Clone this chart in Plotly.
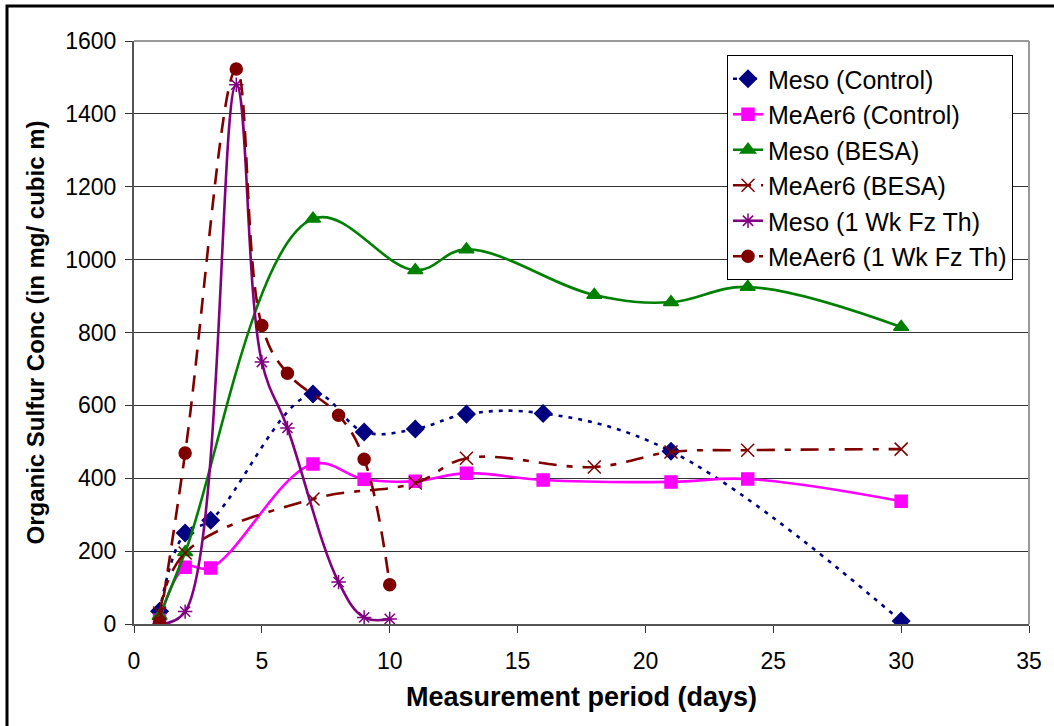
import plotly.graph_objects as go

# ---- data ----
meso_ctrl_x = [1, 2, 3, 7, 9, 11, 13, 16, 21, 30]
meso_ctrl_y = [35, 250, 285, 631, 527, 535, 576, 578, 474, 8]

meaer_ctrl_x = [1, 2, 3, 7, 9, 11, 13, 16, 21, 24, 30]
meaer_ctrl_y = [10, 156, 154, 439, 397, 392, 414, 395, 390, 398, 337]

meso_besa_x = [1, 2, 7, 11, 13, 18, 21, 24, 30]
meso_besa_y = [22, 197, 1112, 971, 1028, 903, 883, 925, 815]

meaer_besa_x = [1, 2, 7, 11, 13, 18, 21, 24, 30]
meaer_besa_y = [30, 195, 343, 387, 455, 431, 472, 477, 480]

meso_fz_x = [1, 2, 4, 5, 6, 8, 9, 10]
meso_fz_y = [0, 34, 1480, 719, 538, 115, 18, 14]

meaer_fz_x = [1, 2, 4, 5, 6, 8, 9, 10]
meaer_fz_y = [3, 469, 1523, 819, 688, 573, 452, 108]

FONT = "Liberation Sans, Arial, sans-serif"

series = [
    ("Meso (Control)", meso_ctrl_x, meso_ctrl_y, "#000080", "4px,6px", "diamond", 13),
    ("MeAer6 (Control)", meaer_ctrl_x, meaer_ctrl_y, "#FF00FF", "solid", "square", 12),
    ("Meso (BESA)", meso_besa_x, meso_besa_y, "#008000", "solid", "triangle-up", 13),
    ("MeAer6 (BESA)", meaer_besa_x, meaer_besa_y, "#800000", "18px,10px,6px,10px", "x-thin-open", 13),
    ("Meso (1 Wk Fz Th)", meso_fz_x, meso_fz_y, "#800080", "solid", "asterisk-open", 12),
    ("MeAer6 (1 Wk Fz Th)", meaer_fz_x, meaer_fz_y, "#800000", "16px,10px", "circle", 12),
]

fig = go.Figure()
for i, (name, xs, ys, col, dash, sym, ms) in enumerate(series):
    fig.add_trace(go.Scatter(
        x=xs, y=ys, name=name, mode="lines+markers",
        line=dict(color=col, width=2.6, dash=dash, shape="spline", smoothing=1.1),
        marker=dict(symbol=sym, size=ms, color=col,
                    line=dict(color=col, width=1.5)),
        legendgroup=f"g{i}",
    ))

fig.update_layout(
    width=1054, height=726,
    margin=dict(l=134, r=25, t=41, b=102, autoexpand=False),
    paper_bgcolor="white", plot_bgcolor="white",
    font=dict(family=FONT, size=23, color="black"),
    showlegend=True,
    legend=dict(
        xref="container", yref="container",
        x=727 / 1054, y=1 - 55 / 726, xanchor="left", yanchor="top",
        bgcolor="white", bordercolor="black", borderwidth=1,
        font=dict(family=FONT, size=25, color="black"),
        tracegroupgap=0,
    ),
    xaxis=dict(
        range=[0, 35], dtick=5, tick0=0,
        showgrid=False, zeroline=False,
        showline=True, linecolor="#555555", linewidth=2,
        ticks="outside", ticklen=7, tickcolor="#333333",
        ticklabelstandoff=8,
        tickfont=dict(family=FONT, size=23),
        title=dict(text="<b>Measurement period (days)</b>",
                   font=dict(family=FONT, size=27), standoff=15),
    ),
    yaxis=dict(
        range=[0, 1600], dtick=200, tick0=0,
        showgrid=True, gridcolor="#333333", gridwidth=1,
        zeroline=False,
        showline=True, linecolor="#555555", linewidth=2,
        ticks="outside", ticklen=7, tickcolor="#333333",
        ticklabelstandoff=4,
        tickfont=dict(family=FONT, size=23),
        title=dict(text="<b>Organic Sulfur Conc (in mg/ cubic m)</b>",
                   font=dict(family=FONT, size=24), standoff=14),
    ),
    shapes=[
        # gray top/right plot border
        dict(type="line", xref="paper", yref="paper", x0=0, x1=1, y0=1, y1=1,
             line=dict(color="#999999", width=2)),
        dict(type="line", xref="paper", yref="paper", x0=1, x1=1, y0=0, y1=1,
             line=dict(color="#999999", width=2)),
        # outer chart border
        dict(type="rect", xref="paper", yref="paper",
             x0=-0.1419, x1=1.04, y0=-0.19, y1=1.060,
             line=dict(color="black", width=3), fillcolor="rgba(0,0,0,0)", layer="below"),
    ],
)

fig.write_html("out.html")
